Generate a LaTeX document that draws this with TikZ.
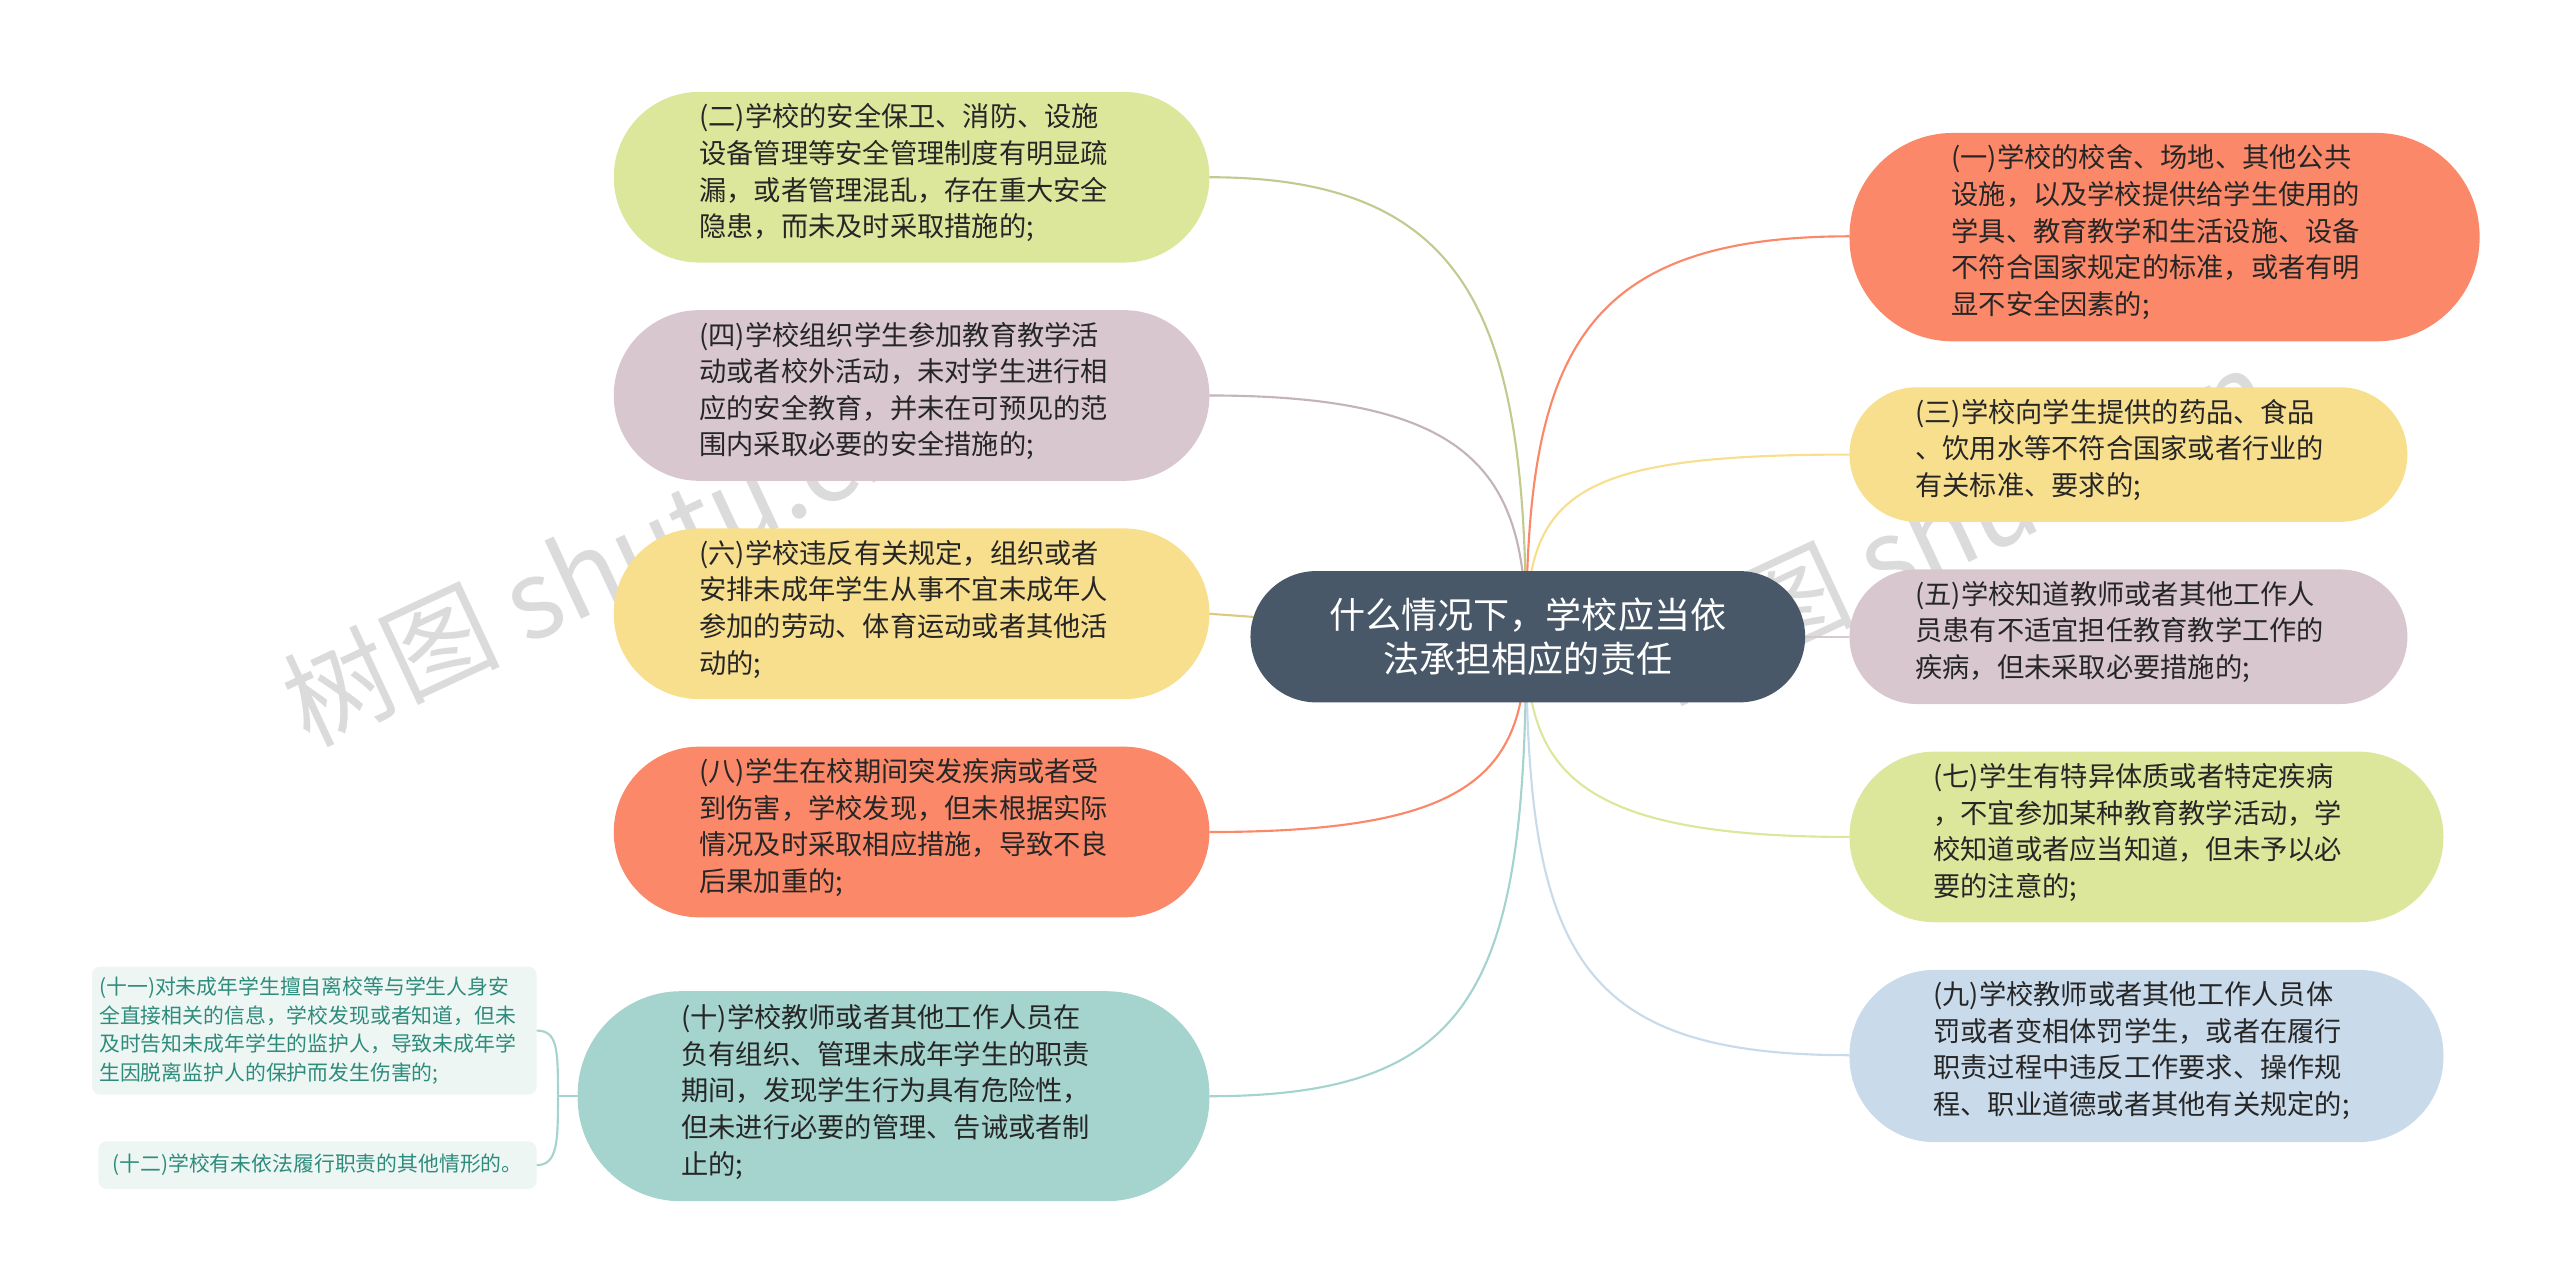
\documentclass[tikz,border=0pt]{standalone}
\usepackage{fontspec}
\setmainfont{Noto Sans CJK SC}
\begin{document}
\begin{tikzpicture}[x=1pt,y=-1pt,
  topic/.style={text width=#1, align=left, font=\fontsize{16.6}{22.3}\selectfont, text=black!85, inner sep=0pt},
  conn/.style={line width=1.3pt},
  small/.style={fill=smallbg, rounded corners=5pt, text=smalltxt, align=left, font=\fontsize{12.7}{17.5}\selectfont, inner sep=0pt}]
\definecolor{cgreen}{HTML}{DCE79B}
\definecolor{cmauve}{HTML}{D9C7CF}
\definecolor{cyellow}{HTML}{F7DF8E}
\definecolor{corange}{HTML}{FA8869}
\definecolor{cteal}{HTML}{A4D4CD}
\definecolor{cblue}{HTML}{C9DAEB}
\definecolor{ccenter}{HTML}{485868}
\definecolor{smallbg}{HTML}{EEF6F4}
\definecolor{smalltxt}{HTML}{2E8C7C}
\useasboundingbox (0,0) rectangle (1560,784);
% watermarks
\node[rotate=25, text=black!14, font=\fontsize{66}{66}\selectfont] at (365,345) {树图 shutu.cn};
\node[rotate=25, text=black!14, font=\fontsize{66}{66}\selectfont] at (1190,320) {树图 shutu.cn};
% shapes
\coordinate (hub) at (930,388);
\fill[cgreen,rounded corners=52pt] (374,56) rectangle (737,160);
\fill[cmauve,rounded corners=52pt] (374,189) rectangle (737,293);
\fill[cyellow,rounded corners=52pt] (374,322) rectangle (737,426);
\fill[corange,rounded corners=52pt] (374,455) rectangle (737,559);
\fill[cteal,rounded corners=63pt] (352,604) rectangle (737,732);
\fill[corange,rounded corners=63pt] (1127,81) rectangle (1511,208);
\fill[cyellow,rounded corners=41pt] (1127,236) rectangle (1467,318);
\fill[cmauve,rounded corners=41pt] (1127,347) rectangle (1467,429);
\fill[cgreen,rounded corners=52pt] (1127,458) rectangle (1489,562);
\fill[cblue,rounded corners=52pt] (1127,591) rectangle (1489,696);
\coordinate (L1) at (737,108); \coordinate (L2) at (737,241); \coordinate (L3) at (737,374);
\coordinate (L4) at (737,507); \coordinate (L5) at (737,668);
\coordinate (R1) at (1127,144); \coordinate (R2) at (1127,277); \coordinate (R3) at (1127,388);
\coordinate (R4) at (1127,510); \coordinate (R5) at (1127,643);
% connectors
\draw[conn,cgreen!85!black!90] (hub) .. controls (930,200) and (900,108) .. (L1);
\draw[conn,cmauve!90!black] (hub) .. controls (930,290) and (900,241) .. (L2);
\draw[conn,cyellow!90!black] (hub) -- (L3);
\draw[conn,corange] (hub) .. controls (930,470) and (900,507) .. (L4);
\draw[conn,cteal] (hub) .. controls (930,600) and (900,668) .. (L5);
\draw[conn,corange] (hub) .. controls (930,220) and (960,144) .. (R1);
\draw[conn,cyellow] (hub) .. controls (930,300) and (960,277) .. (R2);
\draw[conn,cmauve] (hub) -- (R3);
\draw[conn,cgreen] (hub) .. controls (930,470) and (960,510) .. (R4);
\draw[conn,cblue] (hub) .. controls (930,580) and (960,643) .. (R5);
% center
\node[fill=ccenter, rounded corners=40pt, minimum width=338pt, minimum height=80pt, text=white, align=center, font=\fontsize{22}{27}\selectfont, inner sep=0pt] (c) at (931,388) {什么情况下，学校应当依\\法承担相应的责任};
% texts
\node[topic=280pt, anchor=north west] (t1) at (426,63) {(二)学校的安全保卫、消防、设施\\设备管理等安全管理制度有明显疏\\漏，或者管理混乱，存在重大安全\\隐患，而未及时采取措施的;};
\node[topic=280pt, anchor=north west] (t2) at (426,196) {(四)学校组织学生参加教育教学活\\动或者校外活动，未对学生进行相\\应的安全教育，并未在可预见的范\\围内采取必要的安全措施的;};
\node[topic=280pt, anchor=north west] (t3) at (426,329) {(六)学校违反有关规定，组织或者\\安排未成年学生从事不宜未成年人\\参加的劳动、体育运动或者其他活\\动的;};
\node[topic=280pt, anchor=north west] (t4) at (426,462) {(八)学生在校期间突发疾病或者受\\到伤害，学校发现，但未根据实际\\情况及时采取相应措施，导致不良\\后果加重的;};
\node[topic=280pt, anchor=north west] (t5) at (415,612) {(十)学校教师或者其他工作人员在\\负有组织、管理未成年学生的职责\\期间，发现学生行为具有危险性，\\但未进行必要的管理、告诫或者制\\止的;};
\node[topic=280pt, anchor=north west] (r1) at (1189,88) {(一)学校的校舍、场地、其他公共\\设施，以及学校提供给学生使用的\\学具、教育教学和生活设施、设备\\不符合国家规定的标准，或者有明\\显不安全因素的;};
\node[topic=280pt, anchor=north west] (r2) at (1167,243) {(三)学校向学生提供的药品、食品\\、饮用水等不符合国家或者行业的\\有关标准、要求的;};
\node[topic=280pt, anchor=north west] (r3) at (1167,354) {(五)学校知道教师或者其他工作人\\员患有不适宜担任教育教学工作的\\疾病，但未采取必要措施的;};
\node[topic=280pt, anchor=north west] (r4) at (1178,465) {(七)学生有特异体质或者特定疾病\\，不宜参加某种教育教学活动，学\\校知道或者应当知道，但未予以必\\要的注意的;};
\node[topic=280pt, anchor=north west] (r5) at (1178,598) {(九)学校教师或者其他工作人员体\\罚或者变相体罚学生，或者在履行\\职责过程中违反工作要求、操作规\\程、职业道德或者其他有关规定的;};
% small nodes
\node[small, minimum width=271pt, minimum height=78pt, text width=262pt] (s1) at (191.5,628) {(十一)对未成年学生擅自离校等与学生人身安\\全直接相关的信息，学校发现或者知道，但未\\及时告知未成年学生的监护人，导致未成年学\\生因脱离监护人的保护而发生伤害的;};
\node[small, minimum width=267pt, minimum height=29pt, align=center] (s2) at (193.5,710) {(十二)学校有未依法履行职责的其他情形的。};
\coordinate (br) at (340,668);
\draw[conn,cteal] (352,668) -- (br);
\draw[conn,cteal] (327,628) .. controls (340,628) and (340,640) .. (br);
\draw[conn,cteal] (327,710) .. controls (340,710) and (340,695) .. (br);
\end{tikzpicture}
\end{document}
